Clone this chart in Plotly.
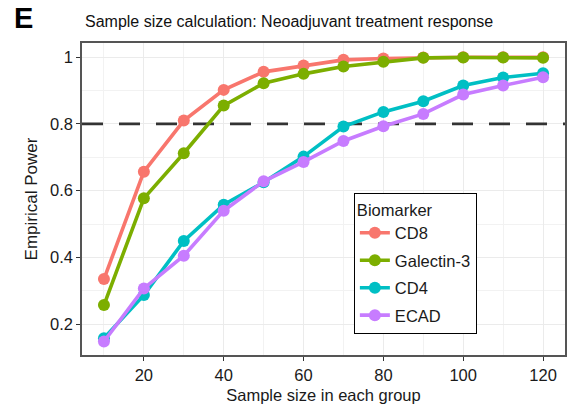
import plotly.graph_objects as go

sample_size = [10, 20, 30, 40, 50, 60, 70, 80, 90, 100, 110, 120]
biomarkers = ["CD8", "Galectin-3", "CD4", "ECAD"]
power_cd8 = [0.335, 0.657, 0.810, 0.902, 0.956, 0.975, 0.992, 0.996, 0.999, 1.000, 1.000, 1.000]
power_gal3 = [0.257, 0.577, 0.712, 0.855, 0.922, 0.950, 0.972, 0.986, 0.998, 0.999, 0.999, 0.998]
power_cd4 = [0.158, 0.287, 0.449, 0.558, 0.625, 0.702, 0.792, 0.836, 0.868, 0.915, 0.939, 0.952]
power_ecad = [0.148, 0.307, 0.405, 0.540, 0.628, 0.686, 0.749, 0.793, 0.830, 0.888, 0.915, 0.940]
colors = ["#F8766D", "#7CAE00", "#00BFC4", "#C77CFF"]
x_ticks = [20, 40, 60, 80, 100, 120]
y_ticks = [0.2, 0.4, 0.6, 0.8, 1.0]
y_tick_text = ["0.2", "0.4", "0.6", "0.8", "1"]
threshold = 0.8

series = [power_cd8, power_gal3, power_cd4, power_ecad]

x_range = [4.5, 125.5]
y_range = [0.1075, 1.0425]

fig = go.Figure()
# threshold reference line (drawn first so it sits under the data lines)
fig.add_trace(go.Scatter(
    x=x_range, y=[threshold, threshold], mode="lines", showlegend=False, hoverinfo="skip",
    line=dict(color="#333333", width=2.6, dash="21px,16px"),
))
for i, (name, vals, col) in enumerate(zip(biomarkers, series, colors)):
    fig.add_trace(go.Scatter(
        x=sample_size, y=vals, name=name, mode="lines+markers",
        legendgroup=f"g{i}",
        line=dict(color=col, width=3.6),
        marker=dict(color=col, size=12),
    ))

font_family = "Liberation Sans, Arial, sans-serif"
axis_common = dict(
    showgrid=True, gridcolor="#EBEBEB", gridwidth=1.2,
    showline=True, linecolor="#555555", linewidth=1.5, mirror=True,
    ticks="outside", ticklen=4, tickcolor="#333333", tickwidth=1,
    tickfont=dict(size=16.5, color="#1a1a1a", family=font_family),
    zeroline=False,
)

pw = 576 - 82 - 9
ph = 411 - 43 - 50

fig.update_layout(
    width=576, height=411,
    margin=dict(l=82, r=9, t=43, b=50),
    plot_bgcolor="white", paper_bgcolor="white",
    font=dict(family=font_family, color="#1a1a1a"),
    xaxis=dict(range=x_range, tickvals=x_ticks,
               minor=dict(dtick=10, tick0=0, showgrid=True, gridcolor="#F2F2F2", gridwidth=1, ticks=""),
               title=dict(text="Sample size in each group", font=dict(size=16.5), standoff=7),
               **axis_common),
    yaxis=dict(range=y_range, tickvals=y_ticks, ticktext=y_tick_text,
               minor=dict(tickvals=[0.3, 0.5, 0.7, 0.9], showgrid=True, gridcolor="#F2F2F2", gridwidth=1, ticks=""),
               title=dict(text="Empirical Power", font=dict(size=17), standoff=8),
               **axis_common),
    legend=dict(
        title=dict(text="Biomarker", font=dict(size=16.5)),
        font=dict(size=16.5, family=font_family),
        x=(355 - 82) / pw, y=(361 - 196) / ph, xanchor="left", yanchor="top",
        bgcolor="white", bordercolor="black", borderwidth=1,
        traceorder="grouped", tracegroupgap=3,
    ),
    showlegend=True,
    annotations=[
        dict(text="Sample size calculation: Neoadjuvant treatment response",
             x=(83 - 82) / pw, y=(411 - 21 - 50) / ph, xref="paper", yref="paper", showarrow=False,
             font=dict(size=16, family=font_family, color="#111111"),
             xanchor="left", yanchor="middle"),
        dict(text="<b>E</b>", x=(12 - 82) / pw, y=(411 - 18 - 50) / ph, xref="paper", yref="paper",
             showarrow=False,
             font=dict(size=29, family=font_family, color="black"),
             xanchor="left", yanchor="middle"),
    ],
)

fig.write_html("out.html")
